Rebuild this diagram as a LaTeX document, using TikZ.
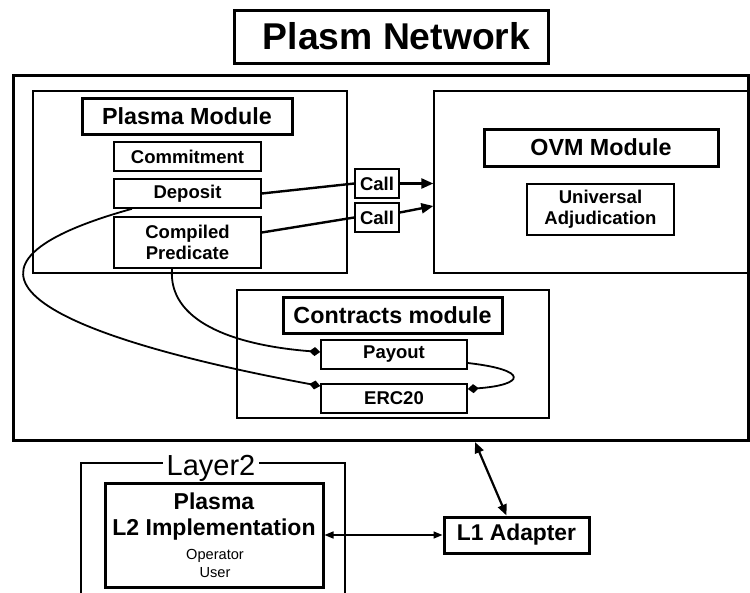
\documentclass[tikz,border=0pt]{standalone}
\usepackage{fontspec}
\setmainfont{Liberation Sans}
\usetikzlibrary{arrows.meta}

\begin{document}
\begin{tikzpicture}[x=1pt,y=-1pt,
	frame/.style={draw, line width=1.3pt, inner sep=0pt},
	heading/.style={draw, line width=3pt, inner sep=0pt, font=\fontsize{23.3}{26}\selectfont\bfseries},
	part/.style={draw, line width=1.6pt, inner sep=0pt, align=center, font=\fontsize{18.5}{21}\selectfont\bfseries},
	callline/.style={line width=2.4pt},
	callarrow/.style={line width=2.4pt, -{Triangle[length=12pt,width=10pt]}},
	link/.style={line width=1.8pt, -{Diamond[length=11pt,width=9pt]}},
	]
			\useasboundingbox (0,0) rectangle (750,592);
			
			\node[draw, line width=3pt, inner sep=0pt, minimum width=314pt, minimum height=53pt] (title) at (391,36.5) {};
			\node[inner sep=0pt, font=\fontsize{37.3}{40}\selectfont\bfseries] (titletext) at (396.5,36.5) {Plasm Network};
			\node[draw, line width=3pt, minimum width=735pt, minimum height=365pt] (net) at (380.5,257.5) {};
			
			\node[frame, minimum width=314pt, minimum height=182pt] (plasma) at (190,182) {};
			\node[heading, minimum width=210pt, minimum height=36pt] (pmtitle) at (187,116) {Plasma Module};
			\node[part, minimum width=147pt, minimum height=29pt] (commit) at (187.5,156.5) {Commitment};
			\node[part, minimum width=147pt, minimum height=29pt] (deposit) at (187.5,193.5) {Deposit};
			\node[part, minimum width=147pt, minimum height=51pt] (compiled) at (187.5,242.5) {Compiled\\Predicate};
			
			\node[part, minimum width=44pt, minimum height=29pt] (call1) at (377,183.5) {Call};
			\node[part, minimum width=44pt, minimum height=29pt] (call2) at (377,217.5) {Call};
			
			\node[frame, minimum width=314pt, minimum height=182pt] (ovm) at (591,182) {};
			\node[heading, minimum width=234pt, minimum height=37pt] (ovmtitle) at (601,147.5) {OVM Module};
			\node[part, minimum width=147pt, minimum height=51pt] (univ) at (600.5,209.5) {Universal\\Adjudication};
			
			\node[frame, minimum width=312pt, minimum height=128pt] (contracts) at (393,354) {};
			\node[heading, minimum width=219pt, minimum height=36pt] (ctitle) at (392.5,315) {Contracts module};
			\node[part, minimum width=146pt, minimum height=29pt] (payout) at (394,354.5) {Payout};
			\node[part, minimum width=146pt, minimum height=29pt] (erc20) at (394,398.5) {ERC20};
			
			% Layer2 frame, open at the bottom
			\draw[line width=1.3pt] (81,600) -- (81,463) -- (345,463) -- (345,600);
			\node[fill=white, inner xsep=4pt, inner ysep=0pt, anchor=base, font=\fontsize{29}{30}\selectfont] (layer2) at (211,475) {Layer2};
			\node[draw, line width=3pt, minimum width=218pt, minimum height=104pt] (l2impl) at (214,535) {};
			\node[align=center, inner sep=0pt, font=\fontsize{23}{26}\selectfont\bfseries] (l2name) at (214,517) {Plasma\\L2 Implementation};
			\node[align=center, inner sep=0pt, font=\fontsize{14.6}{18}\selectfont] (l2roles) at (215,563) {Operator\\User};
			\node[draw, line width=3pt, inner sep=0pt, minimum width=145pt, minimum height=36pt, font=\fontsize{22.8}{25}\selectfont\bfseries] (l1) at (516.5,535) {L1 Adapter};
			\coordinate (tap) at (475,442);
			
			\draw[callline] (deposit.east) -- (call1.west);
			\draw[callarrow] (call1.east) -- (call1.east -| ovm.west);
			\draw[callline] ([yshift=10pt]compiled.east) -- (call2.west);
			\draw[callarrow] ([yshift=5pt]call2.east) -- ([yshift=-24pt]ovm.west);
			
			\draw[link] ([xshift=-55.5pt]deposit.south) .. controls (-70,265) and (20,330) .. ([yshift=12.5pt]erc20.west);
			\draw[link] ([xshift=-15.5pt]compiled.south) .. controls (168,320) and (230,345) .. ([yshift=2.5pt]payout.west);
			\draw[link] ([yshift=-8.5pt]payout.east) .. controls (530,370) and (525,385) .. ([yshift=9.5pt]erc20.east);
			
			\draw[line width=2.2pt, {Triangle[length=11pt,width=9pt]}-{Triangle[length=11pt,width=9pt]}] (tap) -- ([xshift=-10pt]l1.north);
			\draw[line width=1.5pt, {Triangle[length=9pt,width=7pt]}-{Triangle[length=9pt,width=7pt]}] (l2impl.east) -- (l1.west);
		\end{tikzpicture}
\end{document}
